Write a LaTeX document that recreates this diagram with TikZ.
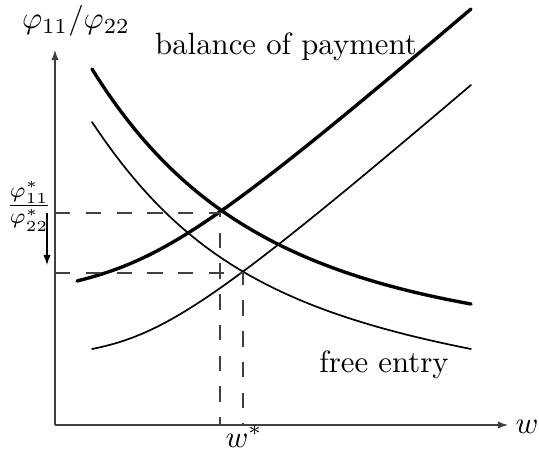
\documentclass[tikz,border=0pt]{standalone}
\usetikzlibrary{arrows.meta}

\begin{document}
\begin{tikzpicture}[
  x=0.325pt,
  y=-0.325pt,
  axis/.style={
    line width=0.4pt,
    draw=black!75,
    -{Latex[length=3.3pt,width=2.4pt]}
  },
  guide/.style={line width=0.4pt, draw=black!75, dash pattern=on 5pt off 5pt},
  thickcurve/.style={line width=1.1pt, line cap=round},
  thincurve/.style={line width=0.55pt, line cap=round},
  lbl/.style={anchor=base, inner sep=0pt}
]

\useasboundingbox (0,0) rectangle (539,455);

\coordinate (origin) at (55,425);
\coordinate (ytop) at (55,50);
\coordinate (xend) at (508,425);
\coordinate (eqhigh) at (220,213);
\coordinate (eqlow) at (243,273);

% axes
\draw[axis] (origin) -- (ytop);
\draw[axis] (origin) -- (xend);

\node[lbl] (ylabel) at (76,29) {$\varphi_{11}/\varphi_{22}$};
\node[lbl] (xlabel) at (527,433) {$w$};

% curves
\draw[thickcurve] (92,69) .. controls (176,204) and (283,270) .. (471,304);
\draw[thincurve] (92,122) .. controls (179,253) and (274,310) .. (471,349);
\draw[thickcurve] (77,281) .. controls (166,259) and (225,218) .. (471,9);
\draw[thincurve] (92,349) .. controls (168,334) and (225,294) .. (471,85);

\node[lbl] (bop) at (286,55) {balance of payment};
\node[lbl] (fe) at (384,372) {free entry};

% equilibria
\draw[guide] (eqhigh -| origin) -- (eqhigh) -- (eqhigh |- origin);
\draw[guide] (eqlow -| origin) -- (eqlow) -- (eqlow |- origin);

\node[inner sep=0pt] (ratio) at (29,206) {$\frac{\varphi^*_{11}}{\varphi^*_{22}}$};
\node[lbl] (wstar) at (244,447) {$w^*$};

\coordinate (shifttop) at (47,213);
\coordinate (shiftend) at (47,265);
\draw[axis, draw=black] (shifttop) -- (shiftend);

\end{tikzpicture}
\end{document}
